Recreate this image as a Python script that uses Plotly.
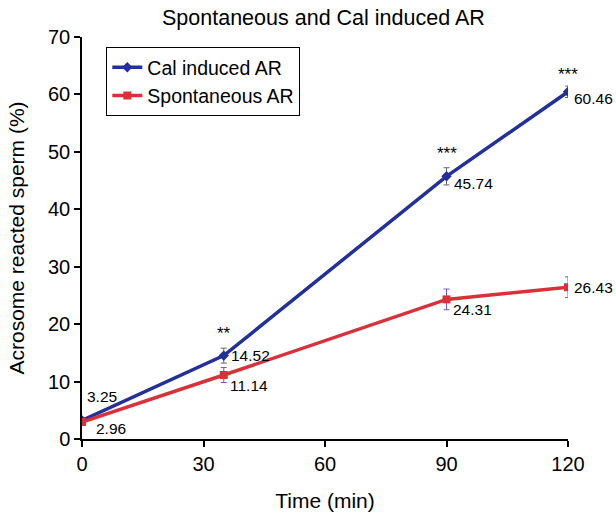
import plotly.graph_objects as go

time = [0, 35, 90, 120]
cal = [3.25, 14.52, 45.74, 60.46]
cal_err = [0.3, 1.3, 1.5, 1.0]
spon = [2.96, 11.14, 24.31, 26.43]
spon_err = [0.3, 1.3, 1.8, 1.8]
sig = ["**", "***", "***"]
sig_x = [35, 90, 120]
sig_y = [18.3, 49.7, 63.5]

fig = go.Figure()
fig.add_trace(go.Scatter(
    x=time, y=cal, name="Cal induced AR", mode="lines+markers",
    line=dict(color="#23309a", width=3.5),
    marker=dict(symbol="diamond", size=8, color="#23309a"),
    error_y=dict(type="data", array=cal_err, color="#666666", thickness=1, width=3),
))
fig.add_trace(go.Scatter(
    x=time, y=spon, name="Spontaneous AR", mode="lines+markers",
    line=dict(color="#d9313a", width=3.5),
    marker=dict(symbol="square", size=8, color="#d9313a"),
    error_y=dict(type="data", array=spon_err, color="#6a5acd", thickness=1, width=3),
))

font = "Liberation Sans, Arial, sans-serif"
# value labels
cal_lab = [dict(x=0, y=cal[0], ax=20, ay=-24), dict(x=35, y=cal[1], ax=27, ay=0),
           dict(x=90, y=cal[2], ax=27, ay=7), dict(x=120, y=cal[3], ax=25, ay=7)]
spon_lab = [dict(x=0, y=spon[0], ax=29, ay=6), dict(x=35, y=spon[1], ax=25, ay=10),
            dict(x=90, y=spon[2], ax=26, ay=10), dict(x=120, y=spon[3], ax=25, ay=0)]
for vals, labs in ((cal, cal_lab), (spon, spon_lab)):
    for v, l in zip(vals, labs):
        fig.add_annotation(x=l["x"], y=l["y"], text=f"{v:.2f}", showarrow=True,
                           arrowcolor="rgba(0,0,0,0)", ax=l["ax"], ay=l["ay"],
                           font=dict(size=15.5, color="black", family=font))
for s, x, y in zip(sig, sig_x, sig_y):
    fig.add_annotation(x=x, y=y, text=s, showarrow=False,
                       font=dict(size=17, color="black", family=font))

fig.update_layout(
    width=616, height=512,
    margin=dict(l=82, r=48, t=37, b=73),
    paper_bgcolor="white", plot_bgcolor="white",
    title=dict(text="Spontaneous and Cal induced AR", x=0.525, xanchor="center",
               y=0.966, yanchor="middle", font=dict(size=21.5, color="black", family=font)),
    font=dict(family=font, color="black"),
    showlegend=True,
    legend=dict(x=0.05, y=0.975, xanchor="left", yanchor="top",
                bordercolor="black", borderwidth=1, bgcolor="white",
                font=dict(size=19.5, family=font), tracegroupgap=0,
                itemwidth=30),
    xaxis=dict(range=[0, 120], tickvals=[0, 30, 60, 90, 120], showgrid=False,
               zeroline=False, showline=True, linecolor="black", linewidth=1.5,
               ticks="outside", ticklen=6, tickwidth=1.5, tickcolor="black",
               automargin=False,
               tickfont=dict(size=20), title=dict(text="Time (min)", font=dict(size=21), standoff=20)),
    yaxis=dict(range=[0, 70], dtick=10, showgrid=False, zeroline=False,
               showline=True, linecolor="black", linewidth=1.5,
               ticks="outside", ticklen=6, tickwidth=1.5, tickcolor="black",
               automargin=False,
               tickfont=dict(size=20),
               title=dict(text="Acrosome reacted sperm (%)", font=dict(size=21), standoff=18)),
)
fig.write_html("out.html")
